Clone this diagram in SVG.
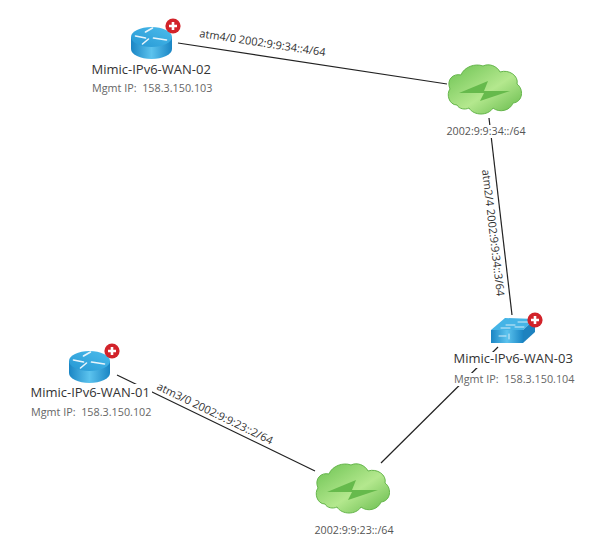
<svg xmlns="http://www.w3.org/2000/svg" width="594" height="551" viewBox="0 0 594 551">
<style>
text{font-family:"Open Sans","Noto Sans","Liberation Sans",sans-serif;white-space:pre}
.name{font-size:13px;font-weight:500;fill:#333}
.ip{font-size:10.8px;fill:#666}
.sub{font-size:10.7px;fill:#555}
.lbl{font-size:11px;fill:#333}
.ln{stroke:#222;stroke-width:1.2;fill:none}
.bg{fill:#fff}
.ar{stroke:#e8f4fb;stroke-width:1.6;fill:none;stroke-linecap:round}
.ar2{stroke:#d4ecf8;stroke-width:1;fill:none;stroke-linecap:round}
</style>
<defs>
<linearGradient id="gBlue" x1="0" x2="1" y1="0" y2="0"><stop offset="0" stop-color="#1a85c4"/><stop offset=".5" stop-color="#5cc3ee"/><stop offset="1" stop-color="#1a85c4"/></linearGradient>
<linearGradient id="gTop" x1="0" x2="1" y1="1" y2="0"><stop offset="0" stop-color="#2597d3"/><stop offset="1" stop-color="#4cbcec"/></linearGradient>
<linearGradient id="gGreen" x1="0" x2="1" y1="0" y2="1"><stop offset="0" stop-color="#6cc252"/><stop offset=".55" stop-color="#b4e88e"/><stop offset="1" stop-color="#62b848"/></linearGradient>
<g id="badge"><circle r="7.6" fill="#d2232a"/><path d="M-4 0H4M0-4V4" stroke="#fff" stroke-width="2.6"/></g>
<g id="router">
<path d="M-20.5-6V6A20.5 10 0 0 0 20.5 6V-6Z" fill="url(#gBlue)"/>
<ellipse cy="-6" rx="20.5" ry="10" fill="url(#gTop)"/>
<path class="ar" d="M-16-7L-6-5M-6-11L1-15M-9 1L-3-4M2-5L15-3"/>
</g>
<g id="cloud">
<path d="M10 41C2 41-1 30 3 25C-1 16 6 9 14 11C17 3 28-1 36 2C42-1 50 2 53 8C62 5 72 12 70 20C77 25 76 38 66 39C63 47 52 49 46 44C41 52 27 52 22 44C18 46 12 45 10 41Z" fill="url(#gGreen)" stroke="#66b64c" stroke-width="1"/>
<path d="M12 29L41 17L37 27L63 27L33 37L37 29Z" fill="#66ba4c"/>
</g>
</defs>
<g id="connectors">
<path class="ln" d="M178 43L447 84"/>
<path class="ln" d="M489 118L512 315"/>
<path class="ln" d="M498 347L381 463"/>
<path class="ln" d="M117 375L315 471"/>
</g>
<g id="edge-labels">
<text class="lbl" transform="translate(199 37) rotate(8.7)">atm4/0 2002:9:9:34::4/64</text>
<text class="lbl" transform="translate(482 170) rotate(83.3)">atm2/4 2002:9:9:34::3/64</text>
<text class="lbl" transform="translate(156 389) rotate(25.9)">atm3/0 2002:9:9:23::2/64</text>
</g>
<g id="wan02">
<use href="#router" x="151.5" y="43"/><use href="#badge" x="173" y="26"/>
<text class="name" x="91.5" y="74">Mimic-IPv6-WAN-02</text>
<text class="ip" x="92" y="92">Mgmt IP:  158.3.150.103</text>
</g>
<g id="cloud34">
<use href="#cloud" x="447" y="64"/>
<rect class="bg" x="446" y="125" width="80" height="13"/>
<text class="sub" x="486" y="135" text-anchor="middle">2002:9:9:34::/64</text>
</g>
<g id="wan03">
<path d="M491 330L505 318L535 319L523 330Z" fill="#45b4e6"/>
<path d="M491 330H523V343H491Z" fill="url(#gBlue)"/>
<path d="M523 330L535 319V332L523 343Z" fill="#1d82bf"/>
<path class="ar2" d="M506 325H515M518 322H528M501 328H510M515 327H524M499 336H506M509 334L509 339"/>
<use href="#badge" x="535" y="320"/>
<rect class="bg" x="453" y="352" width="122" height="16"/>
<rect class="bg" x="453" y="373" width="122" height="13"/>
<text class="name" x="453.5" y="363">Mimic-IPv6-WAN-03</text>
<text class="ip" x="454" y="383">Mgmt IP:  158.3.150.104</text>
</g>
<g id="wan01">
<use href="#router" x="89.5" y="367"/><use href="#badge" x="112" y="351"/>
<rect class="bg" x="30" y="384" width="122" height="17"/>
<text class="name" x="30.5" y="397">Mimic-IPv6-WAN-01</text>
<text class="ip" x="31" y="416">Mgmt IP:  158.3.150.102</text>
</g>
<g id="cloud23">
<use href="#cloud" x="315" y="463"/>
<text class="sub" x="354" y="534" text-anchor="middle">2002:9:9:23::/64</text>
</g>
</svg>
